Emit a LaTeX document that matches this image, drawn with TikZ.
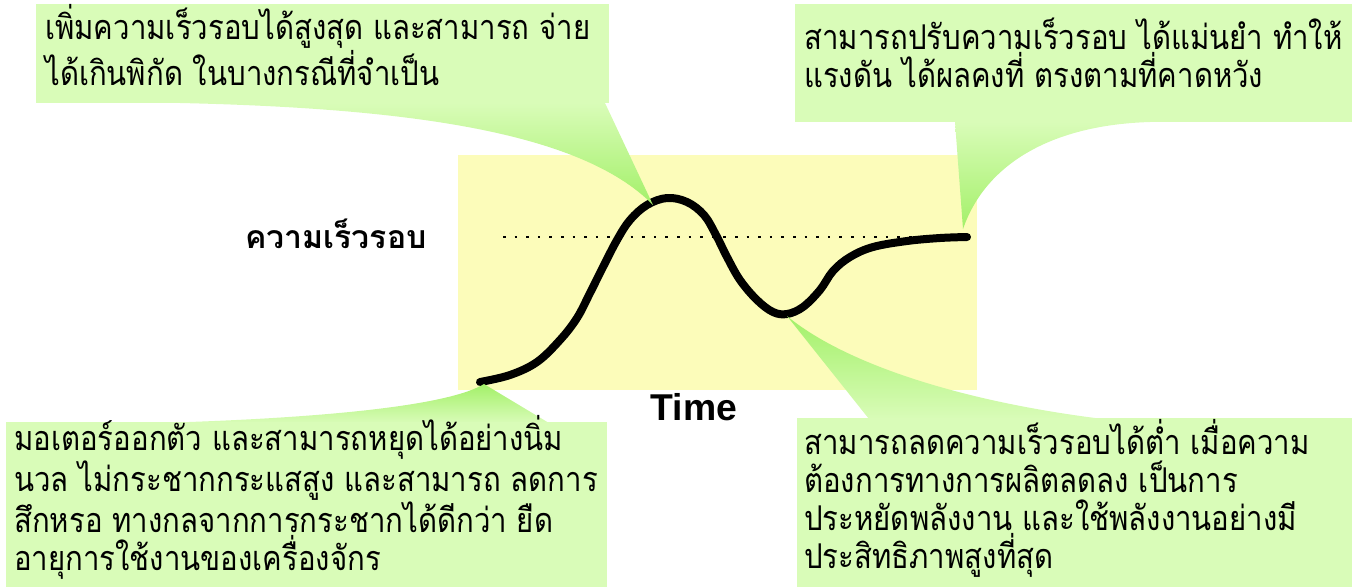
\documentclass[tikz,border=0pt]{standalone}
\usepackage{fontspec}
\setmainfont{Liberation Sans}
\newfontfamily\thaifont[Script=Thai,FakeStretch=0.86]{Loma}
\newfontfamily\thaibold[Script=Thai]{Loma}
\definecolor{boxgreen}{RGB}{217,252,184}
\definecolor{tipgreen}{RGB}{163,240,105}
\definecolor{chartyellow}{RGB}{252,252,186}
\begin{document}
\begin{tikzpicture}[x=0.75pt,y=-0.75pt,
  note/.style={anchor=base west,inner sep=0pt,align=left,font=\thaifont\fontsize{25.6}{28.5}\selectfont},
  boxfill/.style={fill=boxgreen},
  wedgedown/.style={top color=boxgreen,bottom color=tipgreen},
  wedgeup/.style={top color=tipgreen,bottom color=boxgreen},
  speed/.style={line width=6pt,line cap=round,line join=round}]
\useasboundingbox (0,0) rectangle (1358,587);
% chart area
\fill[chartyellow] (458,155) rectangle (977,390);
\draw[line width=1.5pt,dash pattern=on 2pt off 6.7pt] (503,237) -- (965,237);
\coordinate (tlTip) at (653,205);
\coordinate (trTip) at (963,229);
\coordinate (blTip) at (484,384);
\coordinate (brTip) at (787,316);
\draw[speed] plot[smooth,tension=0.6] coordinates {(480,382) (510,375) (537,362) (560,340) (577,318) (590,293) (603,267) (617,240) (630,220) (647,205) (667,198) (687,202) (704,215) (716,235) (727,257) (740,280) (757,300) (773,312) (787,314) (803,307) (820,290) (833,271) (850,257) (873,247) (907,241) (940,238) (967,237)};
% wedges
\shade[wedgedown] (180,103) .. controls (400,108) and (580,130) .. (tlTip) -- (605,103) -- cycle;
\shade[wedgedown] (955,122) -- (trTip) .. controls (985,165) and (1050,125) .. (1150,122) -- cycle;
\shade[wedgeup] (158,423) .. controls (330,418) and (450,405) .. (blTip) -- (549,423) -- cycle;
\shade[wedgeup] (brTip) -- (869,419) -- (1103,419) .. controls (950,400) and (840,360) .. (brTip) -- cycle;
% boxes
\fill[boxfill] (36,4) rectangle (609,103);
\fill[boxfill] (795,4) rectangle (1352,122);
\fill[boxfill] (6,422) rectangle (607,587);
\fill[boxfill] (797,418) rectangle (1352,587);
% texts
\node[note] (tl) at (45,85) {เพิ่มความเร็วรอบได้สูงสุด และสามารถ จ่าย\\ได้เกินพิกัด ในบางกรณีที่จำเป็น};
\node[note] (tr) at (804,87) {สามารถปรับความเร็วรอบ ได้แม่นยำ ทำให้\\แรงดัน ได้ผลคงที่ ตรงตามที่คาดหวัง};
\node[note] (bl) at (14,570) {มอเตอร์ออกตัว และสามารถหยุดได้อย่างนิ่ม\\นวล ไม่กระชากกระแสสูง และสามารถ ลดการ\\สึกหรอ ทางกลจากการกระชากได้ดีกว่า ยืด\\อายุการใช้งานของเครื่องจักร};
\node[note] (br) at (804,568) {สามารถลดความเร็วรอบได้ต่ำ เมื่อความ\\ต้องการทางการผลิตลดลง เป็นการ\\ประหยัดพลังงาน และใช้พลังงานอย่างมี\\ประสิทธิภาพสูงที่สุด};
\node[font=\thaibold\bfseries\fontsize{24}{28}\selectfont,inner sep=0pt,anchor=base] (ylabel) at (336,248) {ความเร็วรอบ};
\node[font=\bfseries\fontsize{28}{32}\selectfont,inner sep=0pt] (xlabel) at (694,407) {Time};
\end{tikzpicture}
\end{document}
